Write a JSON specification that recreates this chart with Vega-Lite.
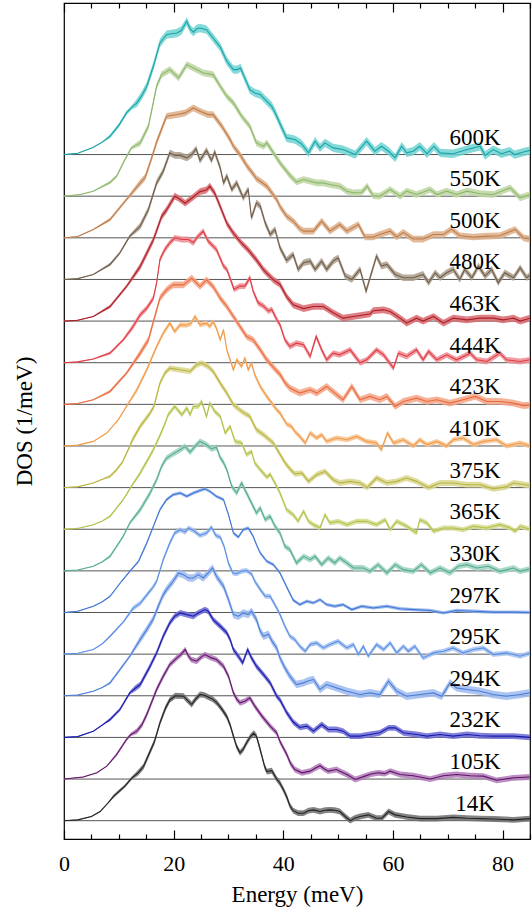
{
"$schema":"https://vega.github.io/schema/vega-lite/v6.json",
"width":466,"height":836,"autosize":"none",
"padding":{"left":64,"top":3,"right":2,"bottom":72},
"config":{"view":{"stroke":"#000","strokeWidth":1.2},
"axis":{"labelFont":"Liberation Serif","titleFont":"Liberation Serif","labelFontSize":22,"titleFontSize":23,"titleFontWeight":"normal","labelColor":"#000","titleColor":"#000","tickColor":"#000","grid":false,"domain":false},
"text":{"font":"Liberation Serif"}},
"datasets":{
"meta":[{"T":"14K","k":0},{"T":"105K","k":1},{"T":"232K","k":2},{"T":"294K","k":3},{"T":"295K","k":4},{"T":"297K","k":5},{"T":"330K","k":6},{"T":"365K","k":7},{"T":"375K","k":8},{"T":"410K","k":9},{"T":"423K","k":10},{"T":"444K","k":11},{"T":"463K","k":12},{"T":"480K","k":13},{"T":"500K","k":14},{"T":"550K","k":15},{"T":"600K","k":16}],
"dos":[
{"T":"14K","E":0,"D":0,"s":0.01},{"T":"14K","E":2.5,"D":0.02,"s":0.01},{"T":"14K","E":5,"D":0.1,"s":0.01},{"T":"14K","E":6.6,"D":0.22,"s":0.01},{"T":"14K","E":8,"D":0.42,"s":0.01},{"T":"14K","E":9,"D":0.58,"s":0.04},{"T":"14K","E":10,"D":0.7,"s":0.04},{"T":"14K","E":11.1,"D":0.83,"s":0.04},{"T":"14K","E":12.4,"D":1.03,"s":0.04},{"T":"14K","E":13.5,"D":1.15,"s":0.07},{"T":"14K","E":14.5,"D":1.3,"s":0.07},{"T":"14K","E":15.5,"D":1.6,"s":0.07},{"T":"14K","E":16.5,"D":1.9,"s":0.07},{"T":"14K","E":17.5,"D":2.35,"s":0.07},{"T":"14K","E":18.5,"D":2.7,"s":0.07},{"T":"14K","E":19.3,"D":2.9,"s":0.07},{"T":"14K","E":20.3,"D":3.0,"s":0.07},{"T":"14K","E":21.8,"D":2.99,"s":0.07},{"T":"14K","E":22.6,"D":2.88,"s":0.07},{"T":"14K","E":23.3,"D":2.79,"s":0.07},{"T":"14K","E":24,"D":2.92,"s":0.07},{"T":"14K","E":24.8,"D":3.03,"s":0.07},{"T":"14K","E":25.5,"D":3.02,"s":0.07},{"T":"14K","E":26.3,"D":2.97,"s":0.07},{"T":"14K","E":27.1,"D":2.92,"s":0.07},{"T":"14K","E":27.9,"D":2.83,"s":0.07},{"T":"14K","E":28.8,"D":2.68,"s":0.07},{"T":"14K","E":29.7,"D":2.5,"s":0.07},{"T":"14K","E":30.3,"D":2.3,"s":0.07},{"T":"14K","E":30.9,"D":2.03,"s":0.07},{"T":"14K","E":31.5,"D":1.78,"s":0.07},{"T":"14K","E":32.1,"D":1.63,"s":0.07},{"T":"14K","E":32.7,"D":1.72,"s":0.07},{"T":"14K","E":33.3,"D":1.87,"s":0.07},{"T":"14K","E":34,"D":2.02,"s":0.07},{"T":"14K","E":34.6,"D":2.1,"s":0.07},{"T":"14K","E":35.1,"D":2.03,"s":0.07},{"T":"14K","E":35.6,"D":1.8,"s":0.07},{"T":"14K","E":36.1,"D":1.55,"s":0.07},{"T":"14K","E":36.6,"D":1.3,"s":0.07},{"T":"14K","E":37,"D":1.18,"s":0.07},{"T":"14K","E":37.9,"D":1.2,"s":0.07},{"T":"14K","E":38.8,"D":1.0,"s":0.07},{"T":"14K","E":39.4,"D":0.9,"s":0.07},{"T":"14K","E":40,"D":0.75,"s":0.07},{"T":"14K","E":40.6,"D":0.58,"s":0.07},{"T":"14K","E":41.2,"D":0.36,"s":0.07},{"T":"14K","E":41.8,"D":0.24,"s":0.07},{"T":"14K","E":42.7,"D":0.18,"s":0.07},{"T":"14K","E":43.7,"D":0.18,"s":0.07},{"T":"14K","E":44.6,"D":0.24,"s":0.07},{"T":"14K","E":45.5,"D":0.26,"s":0.07},{"T":"14K","E":46.7,"D":0.22,"s":0.07},{"T":"14K","E":47.6,"D":0.25,"s":0.07},{"T":"14K","E":48.5,"D":0.26,"s":0.07},{"T":"14K","E":49.4,"D":0.25,"s":0.07},{"T":"14K","E":50.3,"D":0.22,"s":0.07},{"T":"14K","E":51.3,"D":0.1,"s":0.07},{"T":"14K","E":52.2,"D":0,"s":0.07},{"T":"14K","E":53,"D":0.06,"s":0.07},{"T":"14K","E":54,"D":0.1,"s":0.07},{"T":"14K","E":55.5,"D":0.14,"s":0.07},{"T":"14K","E":57,"D":0.06,"s":0.07},{"T":"14K","E":58,"D":0.06,"s":0.07},{"T":"14K","E":59.2,"D":0.22,"s":0.07},{"T":"14K","E":60.4,"D":0.14,"s":0.07},{"T":"14K","E":62.5,"D":0.09,"s":0.07},{"T":"14K","E":65,"D":0.05,"s":0.07},{"T":"14K","E":68,"D":0.05,"s":0.07},{"T":"14K","E":71,"D":0.08,"s":0.07},{"T":"14K","E":73.5,"D":0.06,"s":0.07},{"T":"14K","E":76,"D":0.05,"s":0.07},{"T":"14K","E":78.5,"D":0.04,"s":0.07},{"T":"14K","E":82,"D":0.02,"s":0.07},{"T":"14K","E":85,"D":0.05,"s":0.07},
{"T":"105K","E":0,"D":0,"s":0.01},{"T":"105K","E":3.5,"D":0.05,"s":0.01},{"T":"105K","E":6,"D":0.15,"s":0.01},{"T":"105K","E":7.8,"D":0.31,"s":0.01},{"T":"105K","E":9.6,"D":0.59,"s":0.04},{"T":"105K","E":11.4,"D":0.95,"s":0.04},{"T":"105K","E":12.2,"D":1.07,"s":0.04},{"T":"105K","E":13.3,"D":1.15,"s":0.07},{"T":"105K","E":14.2,"D":1.3,"s":0.07},{"T":"105K","E":15.1,"D":1.55,"s":0.07},{"T":"105K","E":16,"D":1.85,"s":0.07},{"T":"105K","E":16.9,"D":2.15,"s":0.07},{"T":"105K","E":18.1,"D":2.47,"s":0.07},{"T":"105K","E":19.3,"D":2.75,"s":0.07},{"T":"105K","E":20.6,"D":2.91,"s":0.07},{"T":"105K","E":21.4,"D":3.0,"s":0.07},{"T":"105K","E":22.1,"D":3.11,"s":0.07},{"T":"105K","E":22.6,"D":2.98,"s":0.07},{"T":"105K","E":23.2,"D":2.87,"s":0.07},{"T":"105K","E":24.2,"D":2.83,"s":0.07},{"T":"105K","E":25,"D":2.93,"s":0.07},{"T":"105K","E":25.7,"D":2.99,"s":0.07},{"T":"105K","E":26.3,"D":2.95,"s":0.07},{"T":"105K","E":26.9,"D":2.91,"s":0.07},{"T":"105K","E":27.8,"D":2.87,"s":0.07},{"T":"105K","E":29.1,"D":2.71,"s":0.07},{"T":"105K","E":30,"D":2.47,"s":0.07},{"T":"105K","E":30.9,"D":2.07,"s":0.07},{"T":"105K","E":31.5,"D":1.92,"s":0.07},{"T":"105K","E":32.1,"D":1.83,"s":0.07},{"T":"105K","E":33,"D":1.87,"s":0.07},{"T":"105K","E":33.9,"D":1.95,"s":0.07},{"T":"105K","E":34.8,"D":1.75,"s":0.07},{"T":"105K","E":36.1,"D":1.51,"s":0.07},{"T":"105K","E":37.6,"D":1.27,"s":0.07},{"T":"105K","E":38.8,"D":1.11,"s":0.07},{"T":"105K","E":39.4,"D":0.9,"s":0.07},{"T":"105K","E":40.6,"D":0.6,"s":0.07},{"T":"105K","E":41.3,"D":0.38,"s":0.07},{"T":"105K","E":42.1,"D":0.23,"s":0.07},{"T":"105K","E":43.4,"D":0.15,"s":0.07},{"T":"105K","E":44.9,"D":0.19,"s":0.07},{"T":"105K","E":45.8,"D":0.26,"s":0.07},{"T":"105K","E":46.7,"D":0.32,"s":0.07},{"T":"105K","E":47.5,"D":0.24,"s":0.07},{"T":"105K","E":48.2,"D":0.19,"s":0.07},{"T":"105K","E":49.7,"D":0.23,"s":0.07},{"T":"105K","E":50.6,"D":0.17,"s":0.07},{"T":"105K","E":51.6,"D":0.11,"s":0.07},{"T":"105K","E":53.1,"D":-0.01,"s":0.07},{"T":"105K","E":54.9,"D":0.07,"s":0.07},{"T":"105K","E":56,"D":0.12,"s":0.07},{"T":"105K","E":57.3,"D":0.15,"s":0.07},{"T":"105K","E":58.5,"D":0.13,"s":0.07},{"T":"105K","E":59.5,"D":0.19,"s":0.07},{"T":"105K","E":61.3,"D":0.11,"s":0.07},{"T":"105K","E":63.7,"D":0.08,"s":0.07},{"T":"105K","E":66.8,"D":0,"s":0.07},{"T":"105K","E":69.2,"D":0.08,"s":0.07},{"T":"105K","E":71.6,"D":0.11,"s":0.07},{"T":"105K","E":74.1,"D":0.08,"s":0.07},{"T":"105K","E":76.5,"D":0.07,"s":0.07},{"T":"105K","E":78.9,"D":-0.03,"s":0.07},{"T":"105K","E":80.5,"D":0,"s":0.07},{"T":"105K","E":82,"D":0.03,"s":0.07},{"T":"105K","E":85,"D":0.05,"s":0.07},
{"T":"232K","E":0,"D":0,"s":0.01},{"T":"232K","E":2.5,"D":0.02,"s":0.01},{"T":"232K","E":5.35,"D":0.15,"s":0.01},{"T":"232K","E":7,"D":0.3,"s":0.01},{"T":"232K","E":8.4,"D":0.43,"s":0.04},{"T":"232K","E":10.2,"D":0.67,"s":0.04},{"T":"232K","E":12,"D":1.07,"s":0.04},{"T":"232K","E":13,"D":1.18,"s":0.07},{"T":"232K","E":13.9,"D":1.27,"s":0.07},{"T":"232K","E":15.7,"D":1.71,"s":0.07},{"T":"232K","E":16.9,"D":2.03,"s":0.07},{"T":"232K","E":18.1,"D":2.43,"s":0.07},{"T":"232K","E":19.3,"D":2.75,"s":0.07},{"T":"232K","E":20.2,"D":2.91,"s":0.07},{"T":"232K","E":21.2,"D":2.99,"s":0.07},{"T":"232K","E":22.4,"D":2.95,"s":0.07},{"T":"232K","E":23.6,"D":2.91,"s":0.07},{"T":"232K","E":24.5,"D":2.99,"s":0.07},{"T":"232K","E":25.7,"D":3.07,"s":0.07},{"T":"232K","E":26.3,"D":3.03,"s":0.07},{"T":"232K","E":27.2,"D":2.83,"s":0.07},{"T":"232K","E":28.5,"D":2.67,"s":0.07},{"T":"232K","E":29.7,"D":2.51,"s":0.07},{"T":"232K","E":30.3,"D":2.35,"s":0.07},{"T":"232K","E":30.9,"D":2.11,"s":0.07},{"T":"232K","E":31.8,"D":1.95,"s":0.07},{"T":"232K","E":32.6,"D":1.79,"s":0.07},{"T":"232K","E":33.5,"D":2.11,"s":0.07},{"T":"232K","E":34.2,"D":1.91,"s":0.07},{"T":"232K","E":35.1,"D":1.71,"s":0.07},{"T":"232K","E":36.4,"D":1.51,"s":0.07},{"T":"232K","E":37.6,"D":1.31,"s":0.07},{"T":"232K","E":38.8,"D":0.99,"s":0.07},{"T":"232K","E":39.4,"D":0.9,"s":0.07},{"T":"232K","E":40.6,"D":0.6,"s":0.07},{"T":"232K","E":41.8,"D":0.37,"s":0.07},{"T":"232K","E":43,"D":0.24,"s":0.07},{"T":"232K","E":44.3,"D":0.27,"s":0.07},{"T":"232K","E":45.5,"D":0.15,"s":0.07},{"T":"232K","E":47,"D":0.31,"s":0.07},{"T":"232K","E":48.2,"D":0.19,"s":0.07},{"T":"232K","E":49.7,"D":0.19,"s":0.07},{"T":"232K","E":50.9,"D":0.15,"s":0.07},{"T":"232K","E":52.2,"D":0.03,"s":0.07},{"T":"232K","E":54,"D":0.03,"s":0.07},{"T":"232K","E":55.8,"D":0.07,"s":0.07},{"T":"232K","E":57.6,"D":0.11,"s":0.07},{"T":"232K","E":59.2,"D":0.23,"s":0.07},{"T":"232K","E":60.4,"D":0.23,"s":0.07},{"T":"232K","E":61.9,"D":0.11,"s":0.07},{"T":"232K","E":64.3,"D":0.07,"s":0.07},{"T":"232K","E":66.2,"D":0.03,"s":0.07},{"T":"232K","E":68.6,"D":0.07,"s":0.07},{"T":"232K","E":71,"D":0.03,"s":0.07},{"T":"232K","E":73.5,"D":0.07,"s":0.07},{"T":"232K","E":75.9,"D":0.04,"s":0.07},{"T":"232K","E":78.3,"D":0.03,"s":0.07},{"T":"232K","E":82,"D":0.03,"s":0.07},{"T":"232K","E":85,"D":0,"s":0.07},
{"T":"294K","E":0,"D":0,"s":0.01},{"T":"294K","E":2.5,"D":0.02,"s":0.01},{"T":"294K","E":5.35,"D":0.11,"s":0.01},{"T":"294K","E":7,"D":0.2,"s":0.01},{"T":"294K","E":8.4,"D":0.31,"s":0.04},{"T":"294K","E":10.2,"D":0.63,"s":0.04},{"T":"294K","E":12,"D":0.95,"s":0.04},{"T":"294K","E":13.9,"D":1.35,"s":0.09},{"T":"294K","E":15.1,"D":1.59,"s":0.09},{"T":"294K","E":16.3,"D":1.85,"s":0.09},{"T":"294K","E":17.2,"D":2.15,"s":0.09},{"T":"294K","E":18,"D":2.4,"s":0.09},{"T":"294K","E":18.7,"D":2.55,"s":0.09},{"T":"294K","E":19.9,"D":2.75,"s":0.09},{"T":"294K","E":20.9,"D":2.95,"s":0.09},{"T":"294K","E":21.8,"D":2.91,"s":0.09},{"T":"294K","E":22.7,"D":2.83,"s":0.09},{"T":"294K","E":23.6,"D":2.83,"s":0.09},{"T":"294K","E":24.5,"D":2.91,"s":0.09},{"T":"294K","E":25.4,"D":2.83,"s":0.09},{"T":"294K","E":26.3,"D":2.95,"s":0.09},{"T":"294K","E":27.1,"D":3.07,"s":0.09},{"T":"294K","E":27.8,"D":2.87,"s":0.09},{"T":"294K","E":29.1,"D":2.63,"s":0.09},{"T":"294K","E":30,"D":2.31,"s":0.09},{"T":"294K","E":30.9,"D":1.95,"s":0.09},{"T":"294K","E":31.8,"D":1.91,"s":0.09},{"T":"294K","E":32.7,"D":1.99,"s":0.09},{"T":"294K","E":33.6,"D":1.95,"s":0.09},{"T":"294K","E":34.2,"D":2.03,"s":0.09},{"T":"294K","E":35.1,"D":1.83,"s":0.09},{"T":"294K","E":35.8,"D":1.55,"s":0.09},{"T":"294K","E":36.4,"D":1.43,"s":0.09},{"T":"294K","E":37.3,"D":1.48,"s":0.09},{"T":"294K","E":38,"D":1.3,"s":0.09},{"T":"294K","E":38.8,"D":1.15,"s":0.09},{"T":"294K","E":39.4,"D":0.91,"s":0.09},{"T":"294K","E":40.3,"D":0.67,"s":0.09},{"T":"294K","E":41.2,"D":0.47,"s":0.09},{"T":"294K","E":42.4,"D":0.27,"s":0.09},{"T":"294K","E":43.7,"D":0.31,"s":0.09},{"T":"294K","E":44.6,"D":0.36,"s":0.09},{"T":"294K","E":45.5,"D":0.39,"s":0.09},{"T":"294K","E":46.7,"D":0.15,"s":0.09},{"T":"294K","E":47.9,"D":0.27,"s":0.09},{"T":"294K","E":49.7,"D":0.19,"s":0.09},{"T":"294K","E":51.6,"D":0.11,"s":0.09},{"T":"294K","E":54,"D":0.03,"s":0.09},{"T":"294K","E":55.8,"D":0.07,"s":0.09},{"T":"294K","E":57.6,"D":0.03,"s":0.09},{"T":"294K","E":59.2,"D":0.35,"s":0.09},{"T":"294K","E":60.7,"D":0.11,"s":0.09},{"T":"294K","E":62.5,"D":-0.01,"s":0.09},{"T":"294K","E":64.9,"D":0.03,"s":0.09},{"T":"294K","E":67.4,"D":0.07,"s":0.09},{"T":"294K","E":68.9,"D":-0.01,"s":0.09},{"T":"294K","E":70.4,"D":0.31,"s":0.09},{"T":"294K","E":71.6,"D":0.19,"s":0.09},{"T":"294K","E":73.5,"D":0.15,"s":0.09},{"T":"294K","E":75.9,"D":0.11,"s":0.09},{"T":"294K","E":78.3,"D":0.03,"s":0.09},{"T":"294K","E":80.7,"D":-0.01,"s":0.09},{"T":"294K","E":83.2,"D":0.03,"s":0.09},{"T":"294K","E":85,"D":0.07,"s":0.09},
{"T":"295K","E":0,"D":0,"s":0.01},{"T":"295K","E":2.5,"D":0.02,"s":0.01},{"T":"295K","E":5.35,"D":0.11,"s":0.01},{"T":"295K","E":7,"D":0.25,"s":0.01},{"T":"295K","E":8.4,"D":0.43,"s":0.03},{"T":"295K","E":10.8,"D":0.77,"s":0.03},{"T":"295K","E":12.6,"D":1.1,"s":0.06},{"T":"295K","E":13.9,"D":1.22,"s":0.06},{"T":"295K","E":15.4,"D":1.47,"s":0.06},{"T":"295K","E":16.2,"D":1.6,"s":0.06},{"T":"295K","E":16.9,"D":1.75,"s":0.06},{"T":"295K","E":18.1,"D":2.27,"s":0.06},{"T":"295K","E":19.3,"D":2.67,"s":0.06},{"T":"295K","E":20.2,"D":2.91,"s":0.06},{"T":"295K","E":21.2,"D":2.99,"s":0.06},{"T":"295K","E":22.1,"D":2.93,"s":0.06},{"T":"295K","E":22.7,"D":3.03,"s":0.06},{"T":"295K","E":23.6,"D":2.97,"s":0.06},{"T":"295K","E":24.2,"D":2.91,"s":0.06},{"T":"295K","E":24.8,"D":2.85,"s":0.06},{"T":"295K","E":26,"D":2.91,"s":0.06},{"T":"295K","E":26.9,"D":3.05,"s":0.06},{"T":"295K","E":27.7,"D":2.85,"s":0.06},{"T":"295K","E":28.5,"D":2.81,"s":0.06},{"T":"295K","E":29.2,"D":2.59,"s":0.06},{"T":"295K","E":30,"D":2.19,"s":0.06},{"T":"295K","E":30.8,"D":1.95,"s":0.06},{"T":"295K","E":31.5,"D":1.93,"s":0.06},{"T":"295K","E":32.4,"D":1.99,"s":0.06},{"T":"295K","E":33.3,"D":2.01,"s":0.06},{"T":"295K","E":34.2,"D":1.93,"s":0.06},{"T":"295K","E":34.8,"D":1.75,"s":0.06},{"T":"295K","E":35.8,"D":1.55,"s":0.06},{"T":"295K","E":36.7,"D":1.39,"s":0.06},{"T":"295K","E":37.6,"D":1.39,"s":0.06},{"T":"295K","E":38.8,"D":1.11,"s":0.06},{"T":"295K","E":39.4,"D":0.95,"s":0.06},{"T":"295K","E":40.3,"D":0.67,"s":0.06},{"T":"295K","E":41.2,"D":0.43,"s":0.06},{"T":"295K","E":42.1,"D":0.35,"s":0.06},{"T":"295K","E":43,"D":0.19,"s":0.06},{"T":"295K","E":44,"D":0.07,"s":0.06},{"T":"295K","E":44.9,"D":0.23,"s":0.06},{"T":"295K","E":46.1,"D":0.27,"s":0.06},{"T":"295K","E":47.3,"D":0.15,"s":0.06},{"T":"295K","E":48.5,"D":0.23,"s":0.06},{"T":"295K","E":50,"D":0.31,"s":0.06},{"T":"295K","E":51.6,"D":0.15,"s":0.06},{"T":"295K","E":52.8,"D":0.23,"s":0.06},{"T":"295K","E":53.7,"D":-0.01,"s":0.06},{"T":"295K","E":54.6,"D":0.19,"s":0.06},{"T":"295K","E":55.5,"D":-0.05,"s":0.06},{"T":"295K","E":57,"D":0.23,"s":0.06},{"T":"295K","E":58.3,"D":0.11,"s":0.06},{"T":"295K","E":59.5,"D":0.27,"s":0.06},{"T":"295K","E":60.7,"D":0.03,"s":0.06},{"T":"295K","E":61.9,"D":0.19,"s":0.06},{"T":"295K","E":62.8,"D":0.07,"s":0.06},{"T":"295K","E":64,"D":0.19,"s":0.06},{"T":"295K","E":65.5,"D":-0.09,"s":0.06},{"T":"295K","E":67.4,"D":0.03,"s":0.06},{"T":"295K","E":69.2,"D":0.07,"s":0.06},{"T":"295K","E":71,"D":0.15,"s":0.06},{"T":"295K","E":72.8,"D":0.03,"s":0.06},{"T":"295K","E":74.7,"D":0.11,"s":0.06},{"T":"295K","E":76.5,"D":0.15,"s":0.06},{"T":"295K","E":78.3,"D":-0.01,"s":0.06},{"T":"295K","E":80.7,"D":0.03,"s":0.06},{"T":"295K","E":83.2,"D":-0.05,"s":0.06},{"T":"295K","E":85,"D":0.03,"s":0.06},
{"T":"297K","E":0,"D":0,"s":0.01},{"T":"297K","E":2.5,"D":0.03,"s":0.01},{"T":"297K","E":5.35,"D":0.15,"s":0.01},{"T":"297K","E":7,"D":0.26,"s":0.01},{"T":"297K","E":8.4,"D":0.39,"s":0.02},{"T":"297K","E":10.5,"D":0.75,"s":0.02},{"T":"297K","E":12,"D":0.99,"s":0.02},{"T":"297K","E":13.6,"D":1.23,"s":0.04},{"T":"297K","E":15.1,"D":1.67,"s":0.04},{"T":"297K","E":16.3,"D":2.07,"s":0.04},{"T":"297K","E":17.5,"D":2.47,"s":0.04},{"T":"297K","E":18.7,"D":2.71,"s":0.04},{"T":"297K","E":19.9,"D":2.83,"s":0.04},{"T":"297K","E":21.2,"D":2.87,"s":0.04},{"T":"297K","E":22.4,"D":2.79,"s":0.04},{"T":"297K","E":23.6,"D":2.87,"s":0.04},{"T":"297K","E":24.8,"D":2.93,"s":0.04},{"T":"297K","E":25.7,"D":2.97,"s":0.04},{"T":"297K","E":26.6,"D":2.91,"s":0.04},{"T":"297K","E":27.8,"D":2.79,"s":0.04},{"T":"297K","E":29.1,"D":2.71,"s":0.04},{"T":"297K","E":30,"D":2.35,"s":0.04},{"T":"297K","E":30.9,"D":1.91,"s":0.04},{"T":"297K","E":31.8,"D":1.81,"s":0.04},{"T":"297K","E":32.7,"D":1.99,"s":0.04},{"T":"297K","E":33.6,"D":2.03,"s":0.04},{"T":"297K","E":34.5,"D":1.83,"s":0.04},{"T":"297K","E":35.2,"D":1.6,"s":0.04},{"T":"297K","E":35.8,"D":1.43,"s":0.04},{"T":"297K","E":37,"D":1.23,"s":0.04},{"T":"297K","E":38.2,"D":1.15,"s":0.04},{"T":"297K","E":39.4,"D":0.95,"s":0.04},{"T":"297K","E":40.6,"D":0.62,"s":0.04},{"T":"297K","E":41.8,"D":0.3,"s":0.04},{"T":"297K","E":43,"D":0.19,"s":0.04},{"T":"297K","E":44.3,"D":0.27,"s":0.04},{"T":"297K","E":45.5,"D":0.23,"s":0.04},{"T":"297K","E":46.7,"D":0.31,"s":0.04},{"T":"297K","E":47.9,"D":0.19,"s":0.04},{"T":"297K","E":49.4,"D":0.15,"s":0.04},{"T":"297K","E":50.9,"D":0.19,"s":0.04},{"T":"297K","E":52.5,"D":0.07,"s":0.04},{"T":"297K","E":54.3,"D":0.15,"s":0.04},{"T":"297K","E":56.4,"D":0.11,"s":0.04},{"T":"297K","E":58.9,"D":0.15,"s":0.04},{"T":"297K","E":61.3,"D":0.09,"s":0.04},{"T":"297K","E":63.7,"D":0.07,"s":0.04},{"T":"297K","E":66.8,"D":0.05,"s":0.04},{"T":"297K","E":69.2,"D":-0.01,"s":0.04},{"T":"297K","E":71.6,"D":0.05,"s":0.04},{"T":"297K","E":74.7,"D":0.03,"s":0.04},{"T":"297K","E":78.3,"D":0.01,"s":0.04},{"T":"297K","E":82,"D":0.01,"s":0.04},{"T":"297K","E":85,"D":0,"s":0.04},
{"T":"330K","E":0,"D":0,"s":0.01},{"T":"330K","E":2.5,"D":0.02,"s":0.01},{"T":"330K","E":5.35,"D":0.11,"s":0.01},{"T":"330K","E":7,"D":0.22,"s":0.01},{"T":"330K","E":8.4,"D":0.35,"s":0.04},{"T":"330K","E":10.8,"D":0.83,"s":0.04},{"T":"330K","E":12,"D":1.15,"s":0.04},{"T":"330K","E":13.9,"D":1.47,"s":0.07},{"T":"330K","E":15.7,"D":1.87,"s":0.07},{"T":"330K","E":16.9,"D":2.19,"s":0.07},{"T":"330K","E":17.8,"D":2.51,"s":0.07},{"T":"330K","E":18.7,"D":2.71,"s":0.07},{"T":"330K","E":19.9,"D":2.81,"s":0.07},{"T":"330K","E":21.2,"D":2.91,"s":0.07},{"T":"330K","E":22.1,"D":2.99,"s":0.07},{"T":"330K","E":23,"D":2.85,"s":0.07},{"T":"330K","E":23.9,"D":2.99,"s":0.07},{"T":"330K","E":24.8,"D":3.11,"s":0.07},{"T":"330K","E":26,"D":3.03,"s":0.07},{"T":"330K","E":26.9,"D":2.93,"s":0.07},{"T":"330K","E":27.8,"D":2.97,"s":0.07},{"T":"330K","E":28.5,"D":2.72,"s":0.07},{"T":"330K","E":29.1,"D":2.6,"s":0.07},{"T":"330K","E":29.7,"D":2.43,"s":0.07},{"T":"330K","E":30.6,"D":2.03,"s":0.07},{"T":"330K","E":31.5,"D":1.87,"s":0.07},{"T":"330K","E":32.4,"D":2.11,"s":0.07},{"T":"330K","E":33.3,"D":1.87,"s":0.07},{"T":"330K","E":34.2,"D":1.63,"s":0.07},{"T":"330K","E":35.1,"D":1.39,"s":0.07},{"T":"330K","E":35.8,"D":1.51,"s":0.07},{"T":"330K","E":36.7,"D":1.23,"s":0.07},{"T":"330K","E":37.6,"D":1.31,"s":0.07},{"T":"330K","E":38.5,"D":1.07,"s":0.07},{"T":"330K","E":39.4,"D":0.91,"s":0.07},{"T":"330K","E":40.3,"D":0.59,"s":0.07},{"T":"330K","E":41.2,"D":0.51,"s":0.07},{"T":"330K","E":42.4,"D":0.19,"s":0.07},{"T":"330K","E":43.7,"D":0.35,"s":0.07},{"T":"330K","E":44.9,"D":0.27,"s":0.07},{"T":"330K","E":45.8,"D":0.35,"s":0.07},{"T":"330K","E":47,"D":0.15,"s":0.07},{"T":"330K","E":48.2,"D":0.31,"s":0.07},{"T":"330K","E":49.4,"D":0.19,"s":0.07},{"T":"330K","E":50.3,"D":0.31,"s":0.07},{"T":"330K","E":51.6,"D":0.19,"s":0.07},{"T":"330K","E":52.8,"D":0.07,"s":0.07},{"T":"330K","E":54.6,"D":0.07,"s":0.07},{"T":"330K","E":55.8,"D":-0.01,"s":0.07},{"T":"330K","E":57.3,"D":0.15,"s":0.07},{"T":"330K","E":58.9,"D":-0.05,"s":0.07},{"T":"330K","E":60.4,"D":0.15,"s":0.07},{"T":"330K","E":61.9,"D":0.03,"s":0.07},{"T":"330K","E":63.7,"D":-0.01,"s":0.07},{"T":"330K","E":65.2,"D":0.15,"s":0.07},{"T":"330K","E":66.8,"D":-0.05,"s":0.07},{"T":"330K","E":68.6,"D":0.07,"s":0.07},{"T":"330K","E":70.4,"D":-0.05,"s":0.07},{"T":"330K","E":71.9,"D":0.11,"s":0.07},{"T":"330K","E":73.5,"D":0.15,"s":0.07},{"T":"330K","E":75.3,"D":0.07,"s":0.07},{"T":"330K","E":77.4,"D":0.11,"s":0.07},{"T":"330K","E":79.5,"D":-0.01,"s":0.07},{"T":"330K","E":82,"D":0.07,"s":0.07},{"T":"330K","E":83.2,"D":-0.01,"s":0.07},{"T":"330K","E":85,"D":0.05,"s":0.07},
{"T":"365K","E":0,"D":0,"s":0.01},{"T":"365K","E":2.5,"D":0.02,"s":0.01},{"T":"365K","E":5.35,"D":0.11,"s":0.01},{"T":"365K","E":7,"D":0.2,"s":0.01},{"T":"365K","E":8.4,"D":0.31,"s":0.03},{"T":"365K","E":10.8,"D":0.71,"s":0.03},{"T":"365K","E":12.3,"D":1.03,"s":0.03},{"T":"365K","E":13.9,"D":1.35,"s":0.06},{"T":"365K","E":15.1,"D":1.63,"s":0.06},{"T":"365K","E":16.3,"D":1.91,"s":0.06},{"T":"365K","E":17.5,"D":2.25,"s":0.06},{"T":"365K","E":18.3,"D":2.5,"s":0.06},{"T":"365K","E":19,"D":2.75,"s":0.06},{"T":"365K","E":20.2,"D":2.95,"s":0.06},{"T":"365K","E":21.5,"D":2.75,"s":0.06},{"T":"365K","E":22.4,"D":2.91,"s":0.06},{"T":"365K","E":23,"D":2.75,"s":0.06},{"T":"365K","E":23.6,"D":2.95,"s":0.06},{"T":"365K","E":24.5,"D":2.95,"s":0.06},{"T":"365K","E":25.1,"D":3.07,"s":0.06},{"T":"365K","E":26,"D":2.71,"s":0.06},{"T":"365K","E":26.6,"D":3.03,"s":0.06},{"T":"365K","E":27.5,"D":2.83,"s":0.06},{"T":"365K","E":28.5,"D":2.71,"s":0.06},{"T":"365K","E":29.4,"D":2.31,"s":0.06},{"T":"365K","E":30.3,"D":2.47,"s":0.06},{"T":"365K","E":31.2,"D":2.11,"s":0.06},{"T":"365K","E":32.4,"D":2.07,"s":0.06},{"T":"365K","E":33.3,"D":1.79,"s":0.06},{"T":"365K","E":34.2,"D":1.87,"s":0.06},{"T":"365K","E":34.8,"D":1.59,"s":0.06},{"T":"365K","E":35.8,"D":1.43,"s":0.06},{"T":"365K","E":37,"D":1.25,"s":0.06},{"T":"365K","E":37.6,"D":1.32,"s":0.06},{"T":"365K","E":38.8,"D":1.03,"s":0.06},{"T":"365K","E":39.4,"D":0.87,"s":0.06},{"T":"365K","E":40.6,"D":0.47,"s":0.06},{"T":"365K","E":41.8,"D":0.35,"s":0.06},{"T":"365K","E":42.7,"D":0.19,"s":0.06},{"T":"365K","E":43.7,"D":0.43,"s":0.06},{"T":"365K","E":44.6,"D":0.19,"s":0.06},{"T":"365K","E":45.5,"D":0.11,"s":0.06},{"T":"365K","E":46.7,"D":0.03,"s":0.06},{"T":"365K","E":47.6,"D":0.35,"s":0.06},{"T":"365K","E":48.5,"D":0.15,"s":0.06},{"T":"365K","E":50,"D":0.19,"s":0.06},{"T":"365K","E":51.6,"D":0.11,"s":0.06},{"T":"365K","E":53.4,"D":0.19,"s":0.06},{"T":"365K","E":55.2,"D":0.19,"s":0.06},{"T":"365K","E":57,"D":0.11,"s":0.06},{"T":"365K","E":58.6,"D":0.23,"s":0.06},{"T":"365K","E":59.5,"D":-0.01,"s":0.06},{"T":"365K","E":60.7,"D":0.19,"s":0.06},{"T":"365K","E":62.5,"D":0.07,"s":0.06},{"T":"365K","E":64.3,"D":-0.09,"s":0.06},{"T":"365K","E":64.9,"D":0.23,"s":0.06},{"T":"365K","E":66.2,"D":0.15,"s":0.06},{"T":"365K","E":67.4,"D":-0.05,"s":0.06},{"T":"365K","E":69.2,"D":0.03,"s":0.06},{"T":"365K","E":71,"D":0.03,"s":0.06},{"T":"365K","E":72.8,"D":-0.01,"s":0.06},{"T":"365K","E":74.7,"D":0.07,"s":0.06},{"T":"365K","E":77.1,"D":0.03,"s":0.06},{"T":"365K","E":79.5,"D":0.11,"s":0.06},{"T":"365K","E":81.4,"D":0.03,"s":0.06},{"T":"365K","E":82.3,"D":-0.05,"s":0.06},{"T":"365K","E":83.2,"D":0.07,"s":0.06},{"T":"365K","E":85,"D":0,"s":0.06},
{"T":"375K","E":0,"D":0,"s":0.01},{"T":"375K","E":2.5,"D":0.02,"s":0.01},{"T":"375K","E":5.35,"D":0.11,"s":0.01},{"T":"375K","E":7,"D":0.2,"s":0.01},{"T":"375K","E":8.4,"D":0.27,"s":0.04},{"T":"375K","E":9.6,"D":0.43,"s":0.04},{"T":"375K","E":10.6,"D":0.6,"s":0.04},{"T":"375K","E":11.7,"D":0.91,"s":0.04},{"T":"375K","E":12.5,"D":1.15,"s":0.07},{"T":"375K","E":13.9,"D":1.47,"s":0.07},{"T":"375K","E":15.7,"D":1.79,"s":0.07},{"T":"375K","E":16.4,"D":1.95,"s":0.07},{"T":"375K","E":17.5,"D":2.51,"s":0.07},{"T":"375K","E":18.4,"D":2.75,"s":0.07},{"T":"375K","E":19.3,"D":2.87,"s":0.07},{"T":"375K","E":21.2,"D":2.83,"s":0.07},{"T":"375K","E":23,"D":2.79,"s":0.07},{"T":"375K","E":24.2,"D":2.95,"s":0.07},{"T":"375K","E":25.1,"D":2.99,"s":0.07},{"T":"375K","E":26.3,"D":2.91,"s":0.07},{"T":"375K","E":27.2,"D":2.79,"s":0.07},{"T":"375K","E":28.5,"D":2.51,"s":0.07},{"T":"375K","E":29.7,"D":2.27,"s":0.07},{"T":"375K","E":30.9,"D":1.99,"s":0.07},{"T":"375K","E":32.4,"D":1.83,"s":0.07},{"T":"375K","E":33.9,"D":1.71,"s":0.07},{"T":"375K","E":35.1,"D":1.39,"s":0.07},{"T":"375K","E":36.4,"D":1.27,"s":0.07},{"T":"375K","E":38.2,"D":1.07,"s":0.07},{"T":"375K","E":39.4,"D":0.8,"s":0.07},{"T":"375K","E":40.3,"D":0.6,"s":0.07},{"T":"375K","E":41.2,"D":0.45,"s":0.07},{"T":"375K","E":42.1,"D":0.33,"s":0.07},{"T":"375K","E":43.4,"D":0.35,"s":0.07},{"T":"375K","E":44.6,"D":0.15,"s":0.07},{"T":"375K","E":46.1,"D":0.31,"s":0.07},{"T":"375K","E":47.6,"D":0.39,"s":0.07},{"T":"375K","E":49.1,"D":0.19,"s":0.07},{"T":"375K","E":50.3,"D":0.11,"s":0.07},{"T":"375K","E":52.2,"D":0.15,"s":0.07},{"T":"375K","E":54,"D":0.11,"s":0.07},{"T":"375K","E":55.3,"D":0,"s":0.07},{"T":"375K","E":57,"D":0.23,"s":0.07},{"T":"375K","E":58.9,"D":0.11,"s":0.07},{"T":"375K","E":60.7,"D":0.15,"s":0.07},{"T":"375K","E":62.5,"D":0.23,"s":0.07},{"T":"375K","E":64.3,"D":0.15,"s":0.07},{"T":"375K","E":66.5,"D":0,"s":0.07},{"T":"375K","E":68.6,"D":0.11,"s":0.07},{"T":"375K","E":71,"D":0.11,"s":0.07},{"T":"375K","E":73.5,"D":0.07,"s":0.07},{"T":"375K","E":75.9,"D":0.07,"s":0.07},{"T":"375K","E":78.3,"D":-0.03,"s":0.07},{"T":"375K","E":80.7,"D":0.02,"s":0.07},{"T":"375K","E":82,"D":0.11,"s":0.07},{"T":"375K","E":85,"D":0.05,"s":0.07},
{"T":"410K","E":0,"D":0,"s":0.01},{"T":"410K","E":2.5,"D":0.02,"s":0.01},{"T":"410K","E":5.35,"D":0.11,"s":0.01},{"T":"410K","E":7.8,"D":0.31,"s":0.01},{"T":"410K","E":9.9,"D":0.63,"s":0.03},{"T":"410K","E":11.4,"D":0.95,"s":0.03},{"T":"410K","E":13.3,"D":1.35,"s":0.06},{"T":"410K","E":15.1,"D":1.83,"s":0.06},{"T":"410K","E":16.9,"D":2.39,"s":0.06},{"T":"410K","E":18.1,"D":2.71,"s":0.06},{"T":"410K","E":19.3,"D":2.95,"s":0.06},{"T":"410K","E":20.2,"D":2.75,"s":0.06},{"T":"410K","E":21.2,"D":2.91,"s":0.06},{"T":"410K","E":22.4,"D":2.9,"s":0.06},{"T":"410K","E":23.2,"D":2.95,"s":0.06},{"T":"410K","E":23.9,"D":3.11,"s":0.06},{"T":"410K","E":24.8,"D":2.91,"s":0.06},{"T":"410K","E":26,"D":2.95,"s":0.06},{"T":"410K","E":26.6,"D":2.87,"s":0.06},{"T":"410K","E":27.2,"D":2.99,"s":0.06},{"T":"410K","E":27.8,"D":2.83,"s":0.06},{"T":"410K","E":28.5,"D":2.55,"s":0.06},{"T":"410K","E":29.1,"D":2.79,"s":0.06},{"T":"410K","E":29.7,"D":2.31,"s":0.06},{"T":"410K","E":30.3,"D":2.07,"s":0.06},{"T":"410K","E":30.9,"D":1.83,"s":0.06},{"T":"410K","E":31.5,"D":2.07,"s":0.06},{"T":"410K","E":32.4,"D":1.91,"s":0.06},{"T":"410K","E":33,"D":2.11,"s":0.06},{"T":"410K","E":33.6,"D":1.83,"s":0.06},{"T":"410K","E":34.2,"D":1.99,"s":0.06},{"T":"410K","E":34.8,"D":1.71,"s":0.06},{"T":"410K","E":35.8,"D":1.43,"s":0.06},{"T":"410K","E":37,"D":1.19,"s":0.06},{"T":"410K","E":38.8,"D":0.87,"s":0.06},{"T":"410K","E":39.4,"D":0.79,"s":0.06},{"T":"410K","E":40.6,"D":0.53,"s":0.06},{"T":"410K","E":41.5,"D":0.47,"s":0.06},{"T":"410K","E":42.1,"D":0.35,"s":0.06},{"T":"410K","E":43,"D":0.23,"s":0.06},{"T":"410K","E":44,"D":0.07,"s":0.06},{"T":"410K","E":44.9,"D":0.31,"s":0.06},{"T":"410K","E":46.1,"D":0.19,"s":0.06},{"T":"410K","E":47,"D":0.27,"s":0.06},{"T":"410K","E":47.9,"D":0.11,"s":0.06},{"T":"410K","E":49.7,"D":0.19,"s":0.06},{"T":"410K","E":51.6,"D":0.15,"s":0.06},{"T":"410K","E":53.4,"D":0.23,"s":0.06},{"T":"410K","E":55.2,"D":0.11,"s":0.06},{"T":"410K","E":57,"D":0.07,"s":0.06},{"T":"410K","E":57.9,"D":-0.09,"s":0.06},{"T":"410K","E":59,"D":0.31,"s":0.06},{"T":"410K","E":60.1,"D":0.07,"s":0.06},{"T":"410K","E":61.9,"D":0.15,"s":0.06},{"T":"410K","E":63.7,"D":0,"s":0.06},{"T":"410K","E":64.9,"D":0.15,"s":0.06},{"T":"410K","E":66.2,"D":0.03,"s":0.06},{"T":"410K","E":68,"D":0.11,"s":0.06},{"T":"410K","E":69.8,"D":0,"s":0.06},{"T":"410K","E":71,"D":0.15,"s":0.06},{"T":"410K","E":72.8,"D":0.19,"s":0.06},{"T":"410K","E":74.7,"D":0.03,"s":0.06},{"T":"410K","E":76.5,"D":0.11,"s":0.06},{"T":"410K","E":78.9,"D":0.15,"s":0.06},{"T":"410K","E":80.7,"D":0,"s":0.06},{"T":"410K","E":83.2,"D":0.07,"s":0.06},{"T":"410K","E":85,"D":0,"s":0.06},
{"T":"423K","E":0,"D":0,"s":0.01},{"T":"423K","E":2.5,"D":0.02,"s":0.01},{"T":"423K","E":5.35,"D":0.11,"s":0.01},{"T":"423K","E":8.4,"D":0.31,"s":0.04},{"T":"423K","E":11.4,"D":0.75,"s":0.04},{"T":"423K","E":13.9,"D":1.23,"s":0.08},{"T":"423K","E":15.4,"D":1.55,"s":0.08},{"T":"423K","E":16.9,"D":2.27,"s":0.08},{"T":"423K","E":17.5,"D":2.55,"s":0.08},{"T":"423K","E":18.7,"D":2.75,"s":0.08},{"T":"423K","E":19.9,"D":2.87,"s":0.08},{"T":"423K","E":21.8,"D":2.87,"s":0.08},{"T":"423K","E":23.3,"D":3.03,"s":0.08},{"T":"423K","E":24.2,"D":2.91,"s":0.08},{"T":"423K","E":24.8,"D":2.83,"s":0.08},{"T":"423K","E":26,"D":2.99,"s":0.08},{"T":"423K","E":27.2,"D":2.83,"s":0.08},{"T":"423K","E":28.5,"D":2.55,"s":0.08},{"T":"423K","E":29.7,"D":2.35,"s":0.08},{"T":"423K","E":30.9,"D":2.11,"s":0.08},{"T":"423K","E":32.1,"D":1.87,"s":0.08},{"T":"423K","E":33.3,"D":1.63,"s":0.08},{"T":"423K","E":34.5,"D":1.55,"s":0.08},{"T":"423K","E":35.8,"D":1.31,"s":0.08},{"T":"423K","E":37,"D":1.07,"s":0.08},{"T":"423K","E":38.8,"D":0.8,"s":0.08},{"T":"423K","E":39.4,"D":0.72,"s":0.08},{"T":"423K","E":40.3,"D":0.52,"s":0.08},{"T":"423K","E":41.2,"D":0.39,"s":0.08},{"T":"423K","E":43,"D":0.27,"s":0.08},{"T":"423K","E":44.9,"D":0.35,"s":0.08},{"T":"423K","E":46.1,"D":0.27,"s":0.08},{"T":"423K","E":47.9,"D":0.43,"s":0.08},{"T":"423K","E":49.4,"D":0.27,"s":0.08},{"T":"423K","E":50.9,"D":0.11,"s":0.08},{"T":"423K","E":52.5,"D":0.43,"s":0.08},{"T":"423K","E":54,"D":0.11,"s":0.08},{"T":"423K","E":55.8,"D":0.19,"s":0.08},{"T":"423K","E":57.6,"D":0.11,"s":0.08},{"T":"423K","E":58.9,"D":0.19,"s":0.08},{"T":"423K","E":60.4,"D":-0.05,"s":0.08},{"T":"423K","E":61.9,"D":0.07,"s":0.08},{"T":"423K","E":64.3,"D":0.15,"s":0.08},{"T":"423K","E":66.2,"D":0.07,"s":0.08},{"T":"423K","E":68,"D":0.11,"s":0.08},{"T":"423K","E":70.4,"D":0.03,"s":0.08},{"T":"423K","E":72.8,"D":0.11,"s":0.08},{"T":"423K","E":75,"D":0.19,"s":0.08},{"T":"423K","E":77.1,"D":0.07,"s":0.08},{"T":"423K","E":79.5,"D":0.07,"s":0.08},{"T":"423K","E":82,"D":0.03,"s":0.08},{"T":"423K","E":83.8,"D":-0.03,"s":0.08},{"T":"423K","E":85,"D":-0.02,"s":0.08},
{"T":"444K","E":0,"D":0,"s":0.01},{"T":"444K","E":2.5,"D":0.02,"s":0.01},{"T":"444K","E":5.35,"D":0.09,"s":0.01},{"T":"444K","E":8.4,"D":0.23,"s":0.04},{"T":"444K","E":10.8,"D":0.55,"s":0.04},{"T":"444K","E":12.6,"D":0.87,"s":0.07},{"T":"444K","E":13.9,"D":1.15,"s":0.07},{"T":"444K","E":15.1,"D":1.31,"s":0.07},{"T":"444K","E":16.3,"D":1.55,"s":0.07},{"T":"444K","E":16.9,"D":1.92,"s":0.07},{"T":"444K","E":17.5,"D":2.48,"s":0.07},{"T":"444K","E":18.4,"D":2.72,"s":0.07},{"T":"444K","E":19.3,"D":2.88,"s":0.07},{"T":"444K","E":20.2,"D":3.0,"s":0.07},{"T":"444K","E":21.5,"D":2.96,"s":0.07},{"T":"444K","E":22.7,"D":2.96,"s":0.07},{"T":"444K","E":23.6,"D":2.88,"s":0.07},{"T":"444K","E":24.2,"D":3.0,"s":0.07},{"T":"444K","E":25.4,"D":3.16,"s":0.07},{"T":"444K","E":26.3,"D":2.92,"s":0.07},{"T":"444K","E":27.2,"D":2.8,"s":0.07},{"T":"444K","E":27.8,"D":2.72,"s":0.07},{"T":"444K","E":29.1,"D":2.32,"s":0.07},{"T":"444K","E":29.7,"D":2.24,"s":0.07},{"T":"444K","E":30.6,"D":1.92,"s":0.07},{"T":"444K","E":31,"D":1.76,"s":0.07},{"T":"444K","E":32.1,"D":1.84,"s":0.07},{"T":"444K","E":33,"D":1.84,"s":0.07},{"T":"444K","E":33.9,"D":2.04,"s":0.07},{"T":"444K","E":34.5,"D":1.72,"s":0.07},{"T":"444K","E":35.4,"D":1.44,"s":0.07},{"T":"444K","E":36.4,"D":1.36,"s":0.07},{"T":"444K","E":37.3,"D":1.24,"s":0.07},{"T":"444K","E":37.9,"D":1.28,"s":0.07},{"T":"444K","E":38.8,"D":1.04,"s":0.07},{"T":"444K","E":39.4,"D":0.91,"s":0.07},{"T":"444K","E":40.3,"D":0.55,"s":0.07},{"T":"444K","E":41.2,"D":0.39,"s":0.07},{"T":"444K","E":42.4,"D":0.47,"s":0.07},{"T":"444K","E":43.7,"D":0.43,"s":0.07},{"T":"444K","E":44.9,"D":0.15,"s":0.07},{"T":"444K","E":46,"D":0.63,"s":0.07},{"T":"444K","E":47,"D":0.31,"s":0.07},{"T":"444K","E":47.9,"D":0.07,"s":0.07},{"T":"444K","E":49.1,"D":0.23,"s":0.07},{"T":"444K","E":50.3,"D":0.19,"s":0.07},{"T":"444K","E":52.2,"D":0.31,"s":0.07},{"T":"444K","E":54,"D":0,"s":0.07},{"T":"444K","E":55.2,"D":0.07,"s":0.07},{"T":"444K","E":57,"D":0.31,"s":0.07},{"T":"444K","E":58.3,"D":0.19,"s":0.07},{"T":"444K","E":60.1,"D":-0.13,"s":0.07},{"T":"444K","E":61,"D":0.23,"s":0.07},{"T":"444K","E":62.5,"D":0.15,"s":0.07},{"T":"444K","E":64.3,"D":0.31,"s":0.07},{"T":"444K","E":65.5,"D":0.07,"s":0.07},{"T":"444K","E":66.5,"D":0.27,"s":0.07},{"T":"444K","E":68,"D":0.07,"s":0.07},{"T":"444K","E":69.8,"D":0.19,"s":0.07},{"T":"444K","E":71.6,"D":0.07,"s":0.07},{"T":"444K","E":74.1,"D":0.23,"s":0.07},{"T":"444K","E":75.3,"D":0.07,"s":0.07},{"T":"444K","E":77.1,"D":0.03,"s":0.07},{"T":"444K","E":79.5,"D":0.23,"s":0.07},{"T":"444K","E":80.7,"D":0.07,"s":0.07},{"T":"444K","E":83.2,"D":0.03,"s":0.07},{"T":"444K","E":85,"D":0.07,"s":0.07},
{"T":"463K","E":0,"D":0,"s":0.01},{"T":"463K","E":2.5,"D":0.02,"s":0.01},{"T":"463K","E":5.35,"D":0.11,"s":0.01},{"T":"463K","E":8.4,"D":0.35,"s":0.04},{"T":"463K","E":11.4,"D":0.83,"s":0.04},{"T":"463K","E":13.9,"D":1.31,"s":0.08},{"T":"463K","E":16.3,"D":1.95,"s":0.08},{"T":"463K","E":17.8,"D":2.51,"s":0.08},{"T":"463K","E":18.7,"D":2.67,"s":0.08},{"T":"463K","E":20.2,"D":3.0,"s":0.08},{"T":"463K","E":20.9,"D":2.95,"s":0.08},{"T":"463K","E":22.1,"D":2.83,"s":0.08},{"T":"463K","E":23.3,"D":2.95,"s":0.08},{"T":"463K","E":24.8,"D":3.11,"s":0.08},{"T":"463K","E":26,"D":3.15,"s":0.08},{"T":"463K","E":26.6,"D":3.24,"s":0.08},{"T":"463K","E":27.5,"D":3.07,"s":0.08},{"T":"463K","E":28.5,"D":2.75,"s":0.08},{"T":"463K","E":29.7,"D":2.35,"s":0.08},{"T":"463K","E":30.9,"D":2.11,"s":0.08},{"T":"463K","E":32.4,"D":1.87,"s":0.08},{"T":"463K","E":33.6,"D":1.71,"s":0.08},{"T":"463K","E":35.1,"D":1.47,"s":0.08},{"T":"463K","E":36.4,"D":1.23,"s":0.08},{"T":"463K","E":38.2,"D":0.99,"s":0.08},{"T":"463K","E":39.4,"D":0.88,"s":0.08},{"T":"463K","E":40.6,"D":0.59,"s":0.08},{"T":"463K","E":41.8,"D":0.39,"s":0.08},{"T":"463K","E":43.7,"D":0.3,"s":0.08},{"T":"463K","E":45.5,"D":0.35,"s":0.08},{"T":"463K","E":47.3,"D":0.35,"s":0.08},{"T":"463K","E":49.1,"D":0.2,"s":0.08},{"T":"463K","E":50.9,"D":0.07,"s":0.08},{"T":"463K","E":52.8,"D":0.11,"s":0.08},{"T":"463K","E":55.8,"D":0.17,"s":0.08},{"T":"463K","E":56.4,"D":0.25,"s":0.08},{"T":"463K","E":58.3,"D":0.27,"s":0.08},{"T":"463K","E":59.5,"D":0.23,"s":0.08},{"T":"463K","E":61.3,"D":0.07,"s":0.08},{"T":"463K","E":62.5,"D":-0.05,"s":0.08},{"T":"463K","E":64.3,"D":0.07,"s":0.08},{"T":"463K","E":65.5,"D":0,"s":0.08},{"T":"463K","E":67.4,"D":0.11,"s":0.08},{"T":"463K","E":69.2,"D":-0.05,"s":0.08},{"T":"463K","E":71,"D":0.07,"s":0.08},{"T":"463K","E":73.5,"D":0.03,"s":0.08},{"T":"463K","E":75.9,"D":0.07,"s":0.08},{"T":"463K","E":78.3,"D":0.07,"s":0.08},{"T":"463K","E":80.1,"D":0.03,"s":0.08},{"T":"463K","E":82,"D":0.07,"s":0.08},{"T":"463K","E":83.2,"D":0,"s":0.08},{"T":"463K","E":85,"D":0.07,"s":0.08},
{"T":"480K","E":0,"D":0,"s":0.01},{"T":"480K","E":2.5,"D":0.02,"s":0.01},{"T":"480K","E":5.35,"D":0.12,"s":0.01},{"T":"480K","E":8.4,"D":0.36,"s":0.04},{"T":"480K","E":10.2,"D":0.64,"s":0.04},{"T":"480K","E":12,"D":1.04,"s":0.04},{"T":"480K","E":13.9,"D":1.28,"s":0.08},{"T":"480K","E":15.4,"D":1.68,"s":0.08},{"T":"480K","E":16.9,"D":2.32,"s":0.08},{"T":"480K","E":18.1,"D":2.6,"s":0.08},{"T":"480K","E":19.3,"D":3.04,"s":0.08},{"T":"480K","E":20.2,"D":2.98,"s":0.08},{"T":"480K","E":21.2,"D":2.98,"s":0.08},{"T":"480K","E":22.4,"D":2.92,"s":0.08},{"T":"480K","E":23.3,"D":3.0,"s":0.08},{"T":"480K","E":24.1,"D":3.14,"s":0.08},{"T":"480K","E":24.8,"D":2.86,"s":0.08},{"T":"480K","E":26,"D":3.1,"s":0.08},{"T":"480K","E":26.9,"D":2.86,"s":0.08},{"T":"480K","E":27.5,"D":3.06,"s":0.08},{"T":"480K","E":28.5,"D":2.68,"s":0.08},{"T":"480K","E":29.1,"D":2.32,"s":0.08},{"T":"480K","E":29.7,"D":2.48,"s":0.08},{"T":"480K","E":30.6,"D":2.16,"s":0.08},{"T":"480K","E":31.5,"D":2.32,"s":0.08},{"T":"480K","E":32.7,"D":1.96,"s":0.08},{"T":"480K","E":33.6,"D":2.16,"s":0.08},{"T":"480K","E":34.2,"D":1.48,"s":0.08},{"T":"480K","E":35.1,"D":1.84,"s":0.08},{"T":"480K","E":35.8,"D":1.76,"s":0.08},{"T":"480K","E":36.7,"D":1.36,"s":0.08},{"T":"480K","E":37.6,"D":1.08,"s":0.08},{"T":"480K","E":38.5,"D":1.2,"s":0.08},{"T":"480K","E":39.4,"D":0.76,"s":0.08},{"T":"480K","E":40.6,"D":0.46,"s":0.08},{"T":"480K","E":41.8,"D":0.6,"s":0.08},{"T":"480K","E":42.7,"D":0.24,"s":0.08},{"T":"480K","E":43.7,"D":0.4,"s":0.08},{"T":"480K","E":44.9,"D":0.44,"s":0.08},{"T":"480K","E":45.8,"D":0.24,"s":0.08},{"T":"480K","E":47,"D":0.44,"s":0.08},{"T":"480K","E":47.9,"D":0.24,"s":0.08},{"T":"480K","E":49.1,"D":0.44,"s":0.08},{"T":"480K","E":50,"D":0.52,"s":0.08},{"T":"480K","E":51.3,"D":0.08,"s":0.08},{"T":"480K","E":52.5,"D":0,"s":0.08},{"T":"480K","E":54,"D":0.24,"s":0.08},{"T":"480K","E":55.1,"D":-0.28,"s":0.08},{"T":"480K","E":57,"D":0.56,"s":0.08},{"T":"480K","E":57.9,"D":0.32,"s":0.08},{"T":"480K","E":58.9,"D":0.36,"s":0.08},{"T":"480K","E":60.4,"D":0.12,"s":0.08},{"T":"480K","E":61.9,"D":0.04,"s":0.08},{"T":"480K","E":63.7,"D":0.04,"s":0.08},{"T":"480K","E":65.5,"D":0.12,"s":0.08},{"T":"480K","E":66.5,"D":-0.08,"s":0.08},{"T":"480K","E":67.7,"D":0.16,"s":0.08},{"T":"480K","E":68.6,"D":0.04,"s":0.08},{"T":"480K","E":69.8,"D":0.16,"s":0.08},{"T":"480K","E":71,"D":0.24,"s":0.08},{"T":"480K","E":72.2,"D":0,"s":0.08},{"T":"480K","E":73.1,"D":0.24,"s":0.08},{"T":"480K","E":74.4,"D":0.04,"s":0.08},{"T":"480K","E":75.6,"D":0.32,"s":0.08},{"T":"480K","E":76.8,"D":0.08,"s":0.08},{"T":"480K","E":78,"D":0.24,"s":0.08},{"T":"480K","E":79.2,"D":-0.08,"s":0.08},{"T":"480K","E":80.4,"D":0.16,"s":0.08},{"T":"480K","E":82,"D":0.04,"s":0.08},{"T":"480K","E":83.2,"D":0.28,"s":0.08},{"T":"480K","E":84.4,"D":0.04,"s":0.08},{"T":"480K","E":85,"D":0.1,"s":0.08},
{"T":"500K","E":0,"D":0,"s":0.01},{"T":"500K","E":2.5,"D":0.03,"s":0.01},{"T":"500K","E":5.35,"D":0.2,"s":0.01},{"T":"500K","E":8.4,"D":0.44,"s":0.04},{"T":"500K","E":11.4,"D":0.92,"s":0.04},{"T":"500K","E":13.9,"D":1.32,"s":0.08},{"T":"500K","E":14.8,"D":1.45,"s":0.08},{"T":"500K","E":15.7,"D":1.8,"s":0.08},{"T":"500K","E":16.9,"D":2.3,"s":0.08},{"T":"500K","E":18.7,"D":2.92,"s":0.08},{"T":"500K","E":20.6,"D":2.96,"s":0.08},{"T":"500K","E":22.1,"D":3.0,"s":0.08},{"T":"500K","E":23.6,"D":3.12,"s":0.08},{"T":"500K","E":24.8,"D":3.04,"s":0.08},{"T":"500K","E":26.3,"D":2.96,"s":0.08},{"T":"500K","E":27.2,"D":2.96,"s":0.08},{"T":"500K","E":28.8,"D":2.68,"s":0.08},{"T":"500K","E":30.3,"D":2.36,"s":0.08},{"T":"500K","E":30.9,"D":2.2,"s":0.08},{"T":"500K","E":32.1,"D":2.0,"s":0.08},{"T":"500K","E":33.4,"D":1.72,"s":0.08},{"T":"500K","E":34.8,"D":1.48,"s":0.08},{"T":"500K","E":35.1,"D":1.42,"s":0.08},{"T":"500K","E":35.8,"D":1.36,"s":0.08},{"T":"500K","E":37,"D":1.24,"s":0.08},{"T":"500K","E":38.8,"D":0.92,"s":0.08},{"T":"500K","E":39.4,"D":0.75,"s":0.08},{"T":"500K","E":40.6,"D":0.52,"s":0.08},{"T":"500K","E":41.8,"D":0.4,"s":0.08},{"T":"500K","E":43,"D":0.22,"s":0.08},{"T":"500K","E":43.7,"D":0.16,"s":0.08},{"T":"500K","E":45.5,"D":0.16,"s":0.08},{"T":"500K","E":47,"D":0.4,"s":0.08},{"T":"500K","E":48.5,"D":0.16,"s":0.08},{"T":"500K","E":50.3,"D":0.32,"s":0.08},{"T":"500K","E":51.6,"D":0.16,"s":0.08},{"T":"500K","E":53.7,"D":0.32,"s":0.08},{"T":"500K","E":54.9,"D":0.02,"s":0.08},{"T":"500K","E":56.4,"D":0.02,"s":0.08},{"T":"500K","E":57.6,"D":0.08,"s":0.08},{"T":"500K","E":59.5,"D":0.16,"s":0.08},{"T":"500K","E":60.7,"D":0.02,"s":0.08},{"T":"500K","E":61.9,"D":0.13,"s":0.08},{"T":"500K","E":63.7,"D":-0.03,"s":0.08},{"T":"500K","E":65.5,"D":-0.03,"s":0.08},{"T":"500K","E":67.4,"D":0.08,"s":0.08},{"T":"500K","E":69.2,"D":0.08,"s":0.08},{"T":"500K","E":70.7,"D":0.21,"s":0.08},{"T":"500K","E":72.2,"D":0.05,"s":0.08},{"T":"500K","E":74.7,"D":0.02,"s":0.08},{"T":"500K","E":77.1,"D":0.04,"s":0.08},{"T":"500K","E":79.5,"D":0.05,"s":0.08},{"T":"500K","E":82.3,"D":0.2,"s":0.08},{"T":"500K","E":83.8,"D":0,"s":0.08},{"T":"500K","E":85,"D":-0.03,"s":0.08},
{"T":"550K","E":0,"D":0,"s":0.01},{"T":"550K","E":3,"D":0.04,"s":0.01},{"T":"550K","E":5.35,"D":0.12,"s":0.01},{"T":"550K","E":8.4,"D":0.33,"s":0.04},{"T":"550K","E":9.6,"D":0.48,"s":0.04},{"T":"550K","E":11,"D":0.85,"s":0.04},{"T":"550K","E":12.3,"D":1.16,"s":0.04},{"T":"550K","E":13.9,"D":1.28,"s":0.08},{"T":"550K","E":15.4,"D":1.68,"s":0.08},{"T":"550K","E":16.9,"D":2.64,"s":0.08},{"T":"550K","E":17.8,"D":2.92,"s":0.08},{"T":"550K","E":19.3,"D":3.04,"s":0.08},{"T":"550K","E":20.9,"D":2.84,"s":0.08},{"T":"550K","E":22.4,"D":3.16,"s":0.08},{"T":"550K","E":23.6,"D":3.08,"s":0.08},{"T":"550K","E":25.4,"D":2.96,"s":0.08},{"T":"550K","E":27.2,"D":2.92,"s":0.08},{"T":"550K","E":28.5,"D":2.64,"s":0.08},{"T":"550K","E":29.7,"D":2.4,"s":0.08},{"T":"550K","E":30.9,"D":2.24,"s":0.08},{"T":"550K","E":32.4,"D":1.92,"s":0.08},{"T":"550K","E":33.9,"D":1.68,"s":0.08},{"T":"550K","E":35.1,"D":1.28,"s":0.08},{"T":"550K","E":36.4,"D":1.2,"s":0.08},{"T":"550K","E":37,"D":1.28,"s":0.08},{"T":"550K","E":38.2,"D":1.04,"s":0.08},{"T":"550K","E":39.4,"D":0.8,"s":0.08},{"T":"550K","E":40,"D":0.7,"s":0.08},{"T":"550K","E":41.2,"D":0.5,"s":0.08},{"T":"550K","E":42.4,"D":0.34,"s":0.08},{"T":"550K","E":43.7,"D":0.4,"s":0.08},{"T":"550K","E":44.9,"D":0.36,"s":0.08},{"T":"550K","E":46.1,"D":0.32,"s":0.08},{"T":"550K","E":47.3,"D":0.32,"s":0.08},{"T":"550K","E":48.5,"D":0.28,"s":0.08},{"T":"550K","E":50.3,"D":0.24,"s":0.08},{"T":"550K","E":51.6,"D":0.12,"s":0.08},{"T":"550K","E":52.8,"D":0.08,"s":0.08},{"T":"550K","E":54.3,"D":0.09,"s":0.08},{"T":"550K","E":55.3,"D":0.24,"s":0.08},{"T":"550K","E":56.4,"D":0.01,"s":0.08},{"T":"550K","E":57.6,"D":0,"s":0.08},{"T":"550K","E":59.5,"D":0.16,"s":0.08},{"T":"550K","E":61.3,"D":0,"s":0.08},{"T":"550K","E":62.5,"D":0.12,"s":0.08},{"T":"550K","E":64.3,"D":0.04,"s":0.08},{"T":"550K","E":66.8,"D":0.16,"s":0.08},{"T":"550K","E":68,"D":0.04,"s":0.08},{"T":"550K","E":69.8,"D":0.12,"s":0.08},{"T":"550K","E":71.6,"D":0.04,"s":0.08},{"T":"550K","E":73.5,"D":0.12,"s":0.08},{"T":"550K","E":75.9,"D":0.06,"s":0.08},{"T":"550K","E":78.3,"D":0.04,"s":0.08},{"T":"550K","E":81.4,"D":0.2,"s":0.08},{"T":"550K","E":83.2,"D":-0.04,"s":0.08},{"T":"550K","E":85,"D":0.04,"s":0.08},
{"T":"600K","E":0,"D":0,"s":0.01},{"T":"600K","E":2.5,"D":0.03,"s":0.01},{"T":"600K","E":5.3,"D":0.17,"s":0.01},{"T":"600K","E":7,"D":0.3,"s":0.01},{"T":"600K","E":8.4,"D":0.44,"s":0.05},{"T":"600K","E":10,"D":0.7,"s":0.05},{"T":"600K","E":11.4,"D":1.0,"s":0.05},{"T":"600K","E":12.4,"D":1.14,"s":0.05},{"T":"600K","E":13.3,"D":1.24,"s":0.1},{"T":"600K","E":14.2,"D":1.42,"s":0.1},{"T":"600K","E":15.1,"D":1.64,"s":0.1},{"T":"600K","E":16.3,"D":2.12,"s":0.1},{"T":"600K","E":17.5,"D":2.68,"s":0.1},{"T":"600K","E":18.7,"D":2.88,"s":0.1},{"T":"600K","E":19.6,"D":2.9,"s":0.1},{"T":"600K","E":20.6,"D":2.92,"s":0.1},{"T":"600K","E":21.4,"D":2.98,"s":0.1},{"T":"600K","E":22.4,"D":3.2,"s":0.1},{"T":"600K","E":23,"D":3.02,"s":0.1},{"T":"600K","E":23.6,"D":2.94,"s":0.1},{"T":"600K","E":24.2,"D":3.02,"s":0.1},{"T":"600K","E":24.8,"D":3.04,"s":0.1},{"T":"600K","E":26,"D":3.0,"s":0.1},{"T":"600K","E":27.2,"D":2.8,"s":0.1},{"T":"600K","E":28.5,"D":2.58,"s":0.1},{"T":"600K","E":29.7,"D":2.24,"s":0.1},{"T":"600K","E":30.9,"D":2.04,"s":0.1},{"T":"600K","E":31.6,"D":2.04,"s":0.1},{"T":"600K","E":32.2,"D":2.08,"s":0.1},{"T":"600K","E":33.1,"D":1.8,"s":0.1},{"T":"600K","E":33.9,"D":1.56,"s":0.1},{"T":"600K","E":34.8,"D":1.48,"s":0.1},{"T":"600K","E":35.8,"D":1.44,"s":0.1},{"T":"600K","E":36.7,"D":1.32,"s":0.1},{"T":"600K","E":37.9,"D":1.16,"s":0.1},{"T":"600K","E":38.6,"D":0.98,"s":0.1},{"T":"600K","E":39.4,"D":0.74,"s":0.1},{"T":"600K","E":40.6,"D":0.4,"s":0.1},{"T":"600K","E":42.1,"D":0.36,"s":0.1},{"T":"600K","E":43.3,"D":0.26,"s":0.1},{"T":"600K","E":44.6,"D":0.04,"s":0.1},{"T":"600K","E":45.8,"D":0.32,"s":0.1},{"T":"600K","E":46.7,"D":0.16,"s":0.1},{"T":"600K","E":47.6,"D":0.28,"s":0.1},{"T":"600K","E":49.1,"D":0.16,"s":0.1},{"T":"600K","E":50.9,"D":0.12,"s":0.1},{"T":"600K","E":53.1,"D":0,"s":0.1},{"T":"600K","E":55.2,"D":0.32,"s":0.1},{"T":"600K","E":56.7,"D":0.08,"s":0.1},{"T":"600K","E":57.9,"D":0.2,"s":0.1},{"T":"600K","E":59.2,"D":0.08,"s":0.1},{"T":"600K","E":60.4,"D":-0.08,"s":0.1},{"T":"600K","E":61.6,"D":0.2,"s":0.1},{"T":"600K","E":62.5,"D":0.04,"s":0.1},{"T":"600K","E":63.7,"D":0.08,"s":0.1},{"T":"600K","E":64.9,"D":0.2,"s":0.1},{"T":"600K","E":66.2,"D":0.02,"s":0.1},{"T":"600K","E":67.5,"D":0.2,"s":0.1},{"T":"600K","E":68.6,"D":0.04,"s":0.1},{"T":"600K","E":71,"D":0.02,"s":0.1},{"T":"600K","E":73.5,"D":0.12,"s":0.1},{"T":"600K","E":75.9,"D":0.2,"s":0.1},{"T":"600K","E":76.8,"D":-0.02,"s":0.1},{"T":"600K","E":78.3,"D":0.12,"s":0.1},{"T":"600K","E":79.8,"D":0.02,"s":0.1},{"T":"600K","E":81.3,"D":0.08,"s":0.1},{"T":"600K","E":82.2,"D":0,"s":0.1},{"T":"600K","E":83.8,"D":0.06,"s":0.1},{"T":"600K","E":85,"D":0.1,"s":0.1}
]},
"layer":[
{"data":{"name":"meta"},"mark":{"type":"rule","color":"#555","strokeWidth":1},
 "encoding":{"y":{"field":"k","type":"quantitative","scale":{"domain":[-0.44,19.64],"nice":false,"zero":false},"axis":{"orient":"left","labels":false,"ticks":false,"domain":false,"title":"DOS (1/meV)","titlePadding":28}}}},
{"data":{"name":"dos"},
 "transform":[{"lookup":"T","from":{"data":{"name":"meta"},"key":"T","fields":["k"]}},{"calculate":"datum.D + datum.k","as":"y"},{"calculate":"datum.y - datum.s","as":"lo"},{"calculate":"datum.y + datum.s","as":"hi"}],
 "mark":{"type":"area","opacity":0.85,"interpolate":"linear"},
 "encoding":{
  "x":{"field":"E","type":"quantitative","scale":{"domain":[0,85],"nice":false,"zero":false},
   "axis":{"orient":"bottom","values":[0,20,40,60,80],"labelFlush":false,"labelOverlap":false,"tickSize":-9,"tickWidth":1.2,"labelPadding":23,"title":"Energy (meV)","titlePadding":9}},
  "y":{"field":"lo","type":"quantitative","scale":{"domain":[-0.44,19.64],"nice":false,"zero":false},"axis":{"orient":"left","labels":false,"ticks":false,"domain":false,"title":"DOS (1/meV)","titlePadding":28}},
  "y2":{"field":"hi"},
  "fill":{"field":"T","type":"nominal","legend":null,"scale":{"domain":["14K","105K","232K","294K","295K","297K","330K","365K","375K","410K","423K","444K","463K","480K","500K","550K","600K"],"range":["#6e6e6e","#b07ab8","#6b6bd6","#9dbaf0","#a6c2f2","#8fb0ea","#9ed3bf","#d3da8e","#d9d68e","#f7c28e","#f4a584","#ef8b90","#d9676d","#ab9d8c","#dcae88","#bcd6a0","#6ed2d2"]}},
  "detail":{"field":"T"}}},
{"data":{"name":"dos"},
 "transform":[{"lookup":"T","from":{"data":{"name":"meta"},"key":"T","fields":["k"]}},{"calculate":"datum.D + datum.k","as":"y"}],
 "mark":{"type":"line","strokeWidth":1.1},
 "encoding":{
  "x":{"field":"E","type":"quantitative","scale":{"domain":[0,85],"nice":false,"zero":false},
   "axis":{"orient":"top","values":[0,20,40,60,80],"labels":false,"tickSize":-9,"tickWidth":1.2,"title":null}},
  "y":{"field":"y","type":"quantitative","scale":{"domain":[-0.44,19.64],"nice":false,"zero":false},"axis":{"orient":"left","labels":false,"ticks":false,"domain":false,"title":"DOS (1/meV)","titlePadding":28}},
  "stroke":{"field":"T","type":"nominal","legend":null,"scale":{"domain":["14K","105K","232K","294K","295K","297K","330K","365K","375K","410K","423K","444K","463K","480K","500K","550K","600K"],"range":["#222222","#5e1566","#1a1aa8","#4a7ed8","#5a8ee2","#3f76d6","#58aa92","#b4c04a","#b8b440","#f09a48","#e86a40","#e03a44","#a8202a","#6e5e4c","#c07c4a","#8fb56e","#1aa3a6"]}}}},
{"mark":{"type":"rule","color":"#333","strokeWidth":1.2},"encoding":{"x":{"datum":35,"type":"quantitative","scale":{"domain":[0,85],"nice":false,"zero":false},"axis":{"orient":"bottom","values":[5,10,15,25,30,35,45,50,55,65,70,75,85],"labels":false,"tickSize":-5,"tickWidth":1.2,"title":null}}}},
{"data":{"name":"meta"},"mark":{"type":"text","fontSize":23,"align":"center","baseline":"alphabetic","dy":-10,"color":"#000"},
 "encoding":{"x":{"datum":75,"type":"quantitative","scale":{"domain":[0,85],"nice":false,"zero":false},"axis":{"orient":"top","values":[5,10,15,25,30,35,45,50,55,65,70,75,85],"labels":false,"tickSize":-5,"tickWidth":1.2,"title":null}},"y":{"field":"k","type":"quantitative","scale":{"domain":[-0.44,19.64],"nice":false,"zero":false},"axis":{"orient":"left","labels":false,"ticks":false,"domain":false,"title":"DOS (1/meV)","titlePadding":28}},"text":{"field":"T"}}}
],
"resolve":{"axis":{"x":"independent"}}
}
